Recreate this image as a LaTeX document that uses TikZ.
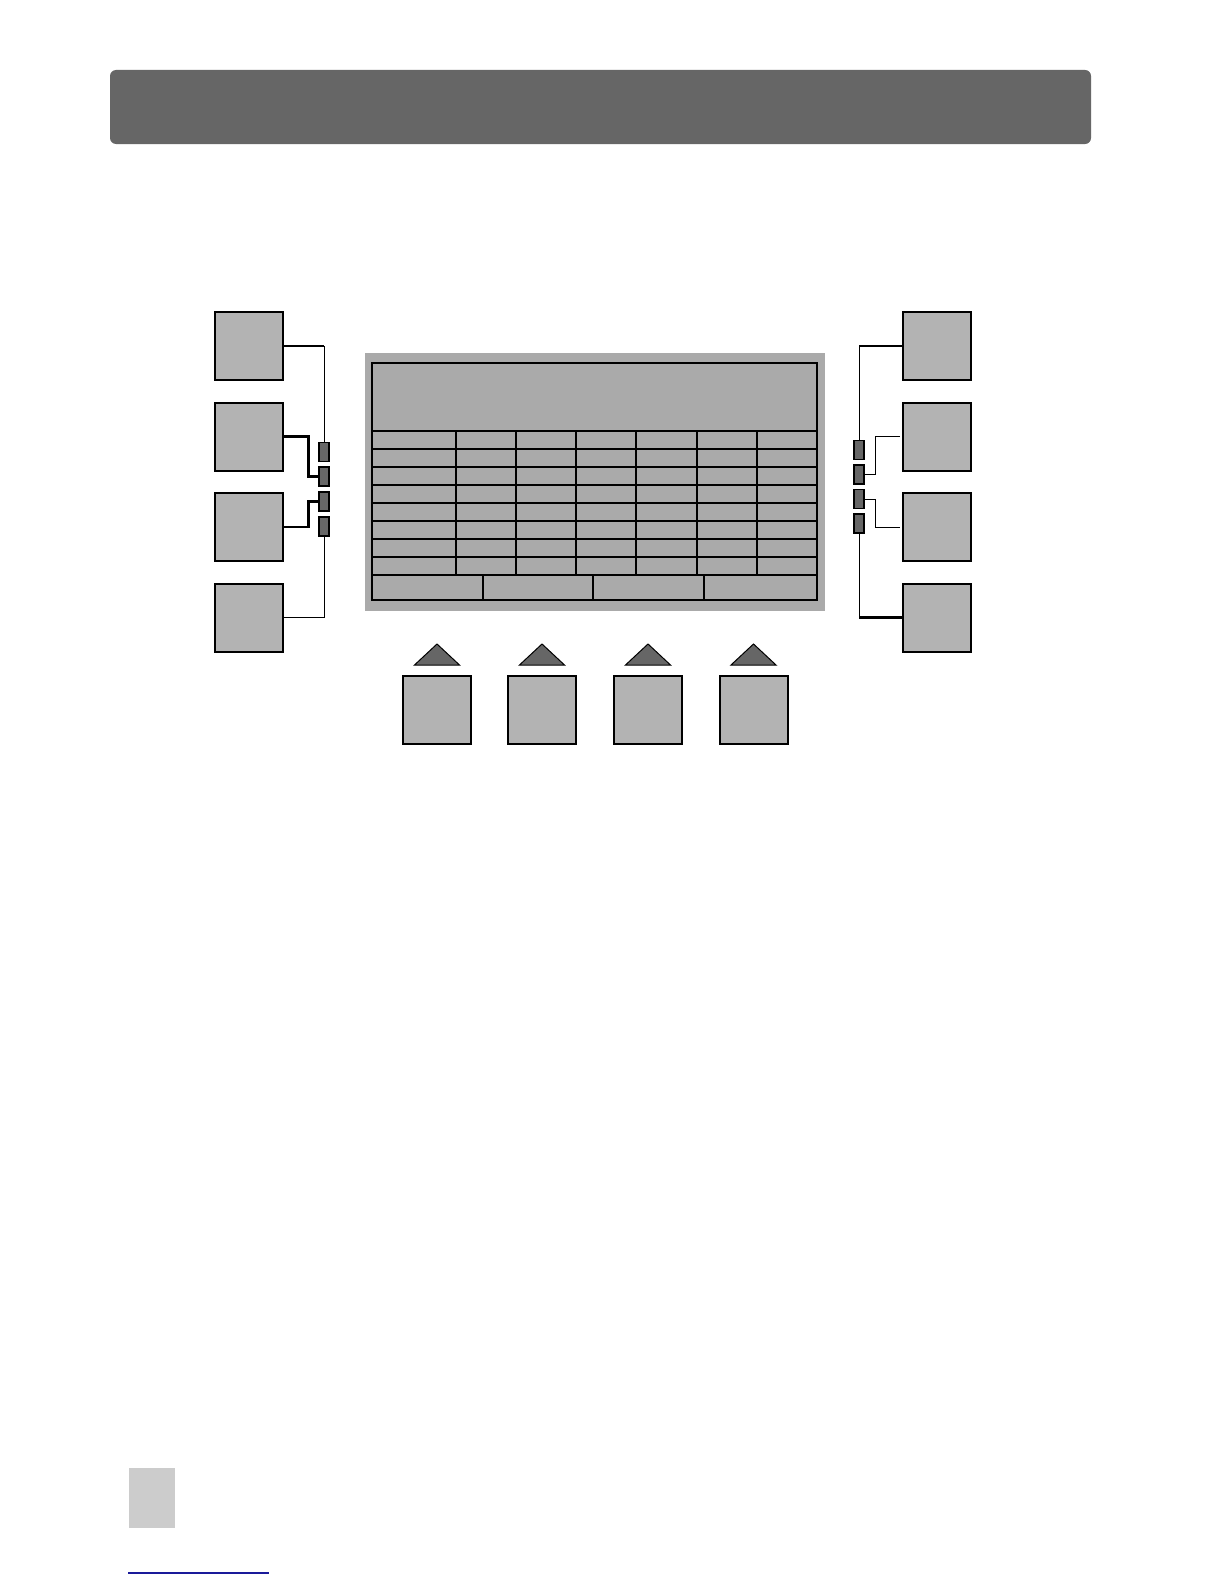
\documentclass[tikz,border=0pt]{standalone}
\usepackage{xcolor}
\usepackage{tikz}
\usetikzlibrary{positioning}
\definecolor{barGray}{HTML}{666666}
\definecolor{keyGray}{HTML}{B3B3B3}
\definecolor{lcdGray}{HTML}{AAAAAA}
\definecolor{ledGray}{HTML}{666666}
\definecolor{tabGray}{HTML}{CCCCCC}
\definecolor{ruleBlue}{HTML}{1A1A9A}

\begin{document}
\begin{tikzpicture}[
    x=1pt, y=-1pt,
    key/.style={draw=black, line width=2pt, fill=keyGray, inner sep=0pt,
                outer sep=0pt, minimum width=68pt, minimum height=68pt},
    led/.style={draw=black, line width=1.2pt, fill=ledGray, inner sep=0pt,
                outer sep=0pt, minimum width=10pt, minimum height=19pt},
    wire/.style={draw=black, line width=1pt},
    wirebold/.style={draw=black, line width=2.2pt},
    screen/.style={fill=lcdGray, inner sep=0pt, minimum width=460pt,
                   minimum height=258pt},
    frame/.style={draw=black, line width=2.2pt, inner sep=0pt,
                  minimum width=445pt, minimum height=237pt},
    cell/.style={draw=black, line width=1.3pt},
    softtri/.style={draw=black, line width=1pt, fill=ledGray, line join=miter},
  ]
  \fill[white] (0,0) rectangle (1224,1584);
  \useasboundingbox (0,0) rectangle (1224,1584);
  % ---- title bar ----
  \node[fill=barGray, rounded corners=6pt, minimum width=981pt,
        minimum height=74pt, inner sep=0pt] (bar) at (600.5,107) {};
  % ---- left keys and indicators ----
  \node[key] (lk1) at (248.5,346)   {};
  \node[key] (lk2) at (248.5,436.5) {};
  \node[key] (lk3) at (248.5,527)   {};
  \node[key] (lk4) at (248.5,617.5) {};
  \node[led] (ll1) at (324,452)   {};
  \node[led] (ll2) at (324,476.5) {};
  \node[led] (ll3) at (324,501.5) {};
  \node[led] (ll4) at (324,526.5) {};
  % ---- right keys and indicators ----
  \node[key] (rk1) at (937,346)   {};
  \node[key] (rk2) at (937,436.5) {};
  \node[key] (rk3) at (937,527)   {};
  \node[key] (rk4) at (937,617.5) {};
  \node[led] (rl1) at (859,450)   {};
  \node[led] (rl2) at (859,474.5) {};
  \node[led] (rl3) at (859,499)   {};
  \node[led] (rl4) at (859,523.5) {};
  % ---- wires: left ----
  \draw[wirebold] (lk1.east) -- (324,346);
  \draw[wire] (324,346) -- (ll1.north);
  \draw[wirebold] (lk2.east) -- ++(26,0) |- (ll2.west);
  \draw[wirebold] (lk3.east) -- ++(26,0) |- (ll3.west);
  \draw[wire] (lk4.east) -| (ll4.south);
  % ---- wires: right ----
  \draw[wirebold] (rk1.west) -- (859,346);
  \draw[wire] (859,346) -- (rl1.north);
  \draw[wire] (rl2.east) -- ++(11,0) |- ([xshift=-3pt]rk2.west);
  \draw[wire] (rl3.east) -- ++(11,0) |- ([xshift=-3pt]rk3.west);
  \draw[wire] (rl4.south) -- (859,617.5);
  \draw[wirebold] (859,617.5) -- (rk4.west);
  % ---- display ----
  \node[screen] (lcd) at (595,482) {};
  \foreach \y in {431,449,...,575}
    \draw[cell] (372,\y) -- (817,\y);
  \foreach \x in {456,516,576,636,697,757}
    \draw[cell] (\x,431) -- (\x,575);
  \foreach \x in {483,593,704}
    \draw[cell] (\x,575) -- (\x,600);
  \node[frame] (frm) at (594.5,481.5) {};
  % ---- soft keys ----
  \node[key] (sk1) at (437,710)   {};
  \node[key] (sk2) at (542,710)   {};
  \node[key] (sk3) at (648,710)   {};
  \node[key] (sk4) at (753.5,710) {};
  \foreach \i in {1,...,4}
    \draw[softtri] (sk\i.north) ++(-22.5,-11) -- ++(45,0) -- ++(-22.5,-21) -- cycle;
  % ---- page footer ----
  \node[fill=tabGray, minimum width=46pt, minimum height=60pt,
        inner sep=0pt] (tab) at (152,1498) {};
  \draw[ruleBlue, line width=1.5pt] (128,1573) -- (269,1573);
\end{tikzpicture}
\end{document}
